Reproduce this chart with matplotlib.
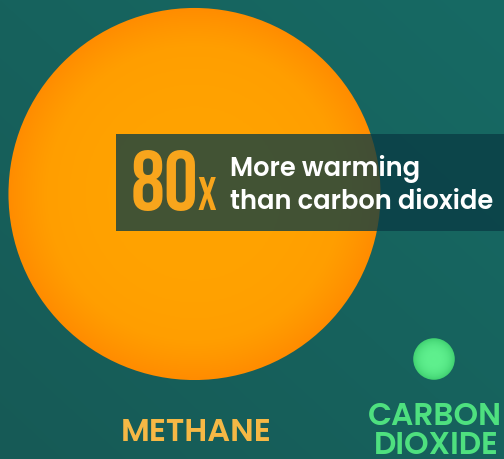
import numpy as np
import matplotlib
matplotlib.use("Agg")
import matplotlib.pyplot as plt
from matplotlib.patches import Circle, Rectangle
from matplotlib.colors import LinearSegmentedColormap

# ---- data ----
gases = ["METHANE", "CARBON\nDIOXIDE"]
warming = [80, 1]              # relative warming potential (area of each circle)
headline_value = "80"
headline_suffix = "x"
headline_text = ["More warming", "than carbon dioxide"]

W, H = 504, 459
fig = plt.figure(figsize=(W / 100, H / 100), dpi=100)
ax = fig.add_axes([0, 0, 1, 1])
ax.set_xlim(0, W)
ax.set_ylim(H, 0)
ax.axis("off")

# background gradient
yy, xx = np.mgrid[0:H, 0:W]
t = (xx / W * 0.5 + (1 - yy / H) * 0.5)
c0 = np.array([0x16, 0x5a, 0x56]) / 255
c1 = np.array([0x17, 0x6a, 0x64]) / 255
bg = c0[None, None, :] * (1 - t[..., None]) + c1[None, None, :] * t[..., None]
ax.imshow(bg, extent=(0, W, H, 0), zorder=0, aspect="auto")

scale = 20.8
centers_x = [194.5, 434]
centers_y = [194, 359]
radii = [scale * np.sqrt(v) for v in warming]

cmap_o = LinearSegmentedColormap.from_list("o", ["#ffa300", "#ff9e00", "#ff8c00"])
cmap_g = LinearSegmentedColormap.from_list("g", ["#5ff08e", "#4fe07f", "#3fcf70"])
for cx, cy, r, cm in zip(centers_x, centers_y, radii, [cmap_o, cmap_g]):
    n = 300
    gy, gx = np.mgrid[-1:1:n * 1j, -1:1:n * 1j]
    d = np.sqrt(gx ** 2 + gy ** 2)
    im = ax.imshow(np.clip(d, 0, 1) ** 3, extent=(cx - r, cx + r, cy + r, cy - r),
                   cmap=cm, vmin=0, vmax=1, zorder=2, aspect="auto")
    clip = Circle((cx, cy), r, transform=ax.transData, facecolor="none", edgecolor="none")
    ax.add_patch(clip)
    im.set_clip_path(clip)

# overlay box
ax.add_patch(Rectangle((116, 134), W - 116, 97, facecolor="#093b44", alpha=0.77,
                       edgecolor="none", zorder=3))

ax.text(131, 210, headline_value, fontsize=61, family="Bebas Neue",
        color="#f8a51c", va="baseline", ha="left", zorder=4)
ax.text(198, 210, headline_suffix, fontsize=33, family="Bebas Neue",
        color="#f8a51c", va="baseline", ha="left", zorder=4)
ax.text(230, 176, headline_text[0], fontsize=18.5, family="Poppins",
        fontweight=600, color="white", va="baseline", ha="left", zorder=4)
ax.text(230, 209, headline_text[1], fontsize=18.5, family="Poppins",
        fontweight=600, color="white", va="baseline", ha="left", zorder=4)

# labels
ax.text(196, 441, gases[0], fontsize=23, family="Poppins", fontweight=600,
        color="#f6b845", ha="center", va="baseline", zorder=4)
ax.text(435, 425, gases[1].split("\n")[0], fontsize=22.5, family="Poppins",
        fontweight=600, color="#4ee07f", ha="center", va="baseline", zorder=4)
ax.text(436, 454, gases[1].split("\n")[1], fontsize=22.5, family="Poppins",
        fontweight=600, color="#4ee07f", ha="center", va="baseline", zorder=4)

fig.savefig("out.png", dpi=100)
